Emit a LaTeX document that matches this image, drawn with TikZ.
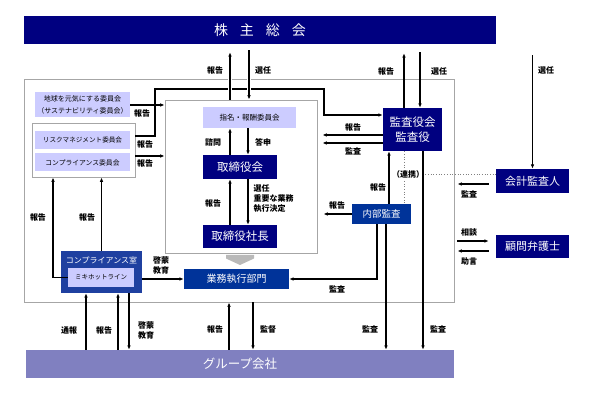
\documentclass[tikz,border=0pt]{standalone}
\usepackage{fontspec}
\setmainfont{Noto Sans CJK JP}
\usetikzlibrary{arrows.meta}

\definecolor{navy}{HTML}{000080}
\definecolor{midblue}{HTML}{003399}
\definecolor{roomblue}{HTML}{1F40A0}
\definecolor{lav}{HTML}{CCCCFF}
\definecolor{grpviolet}{HTML}{8080C0}
\definecolor{framegray}{HTML}{A6A6A6}

\begin{document}
\begin{tikzpicture}[x=1pt, y=-1pt,
    box/.style={rectangle, inner sep=0pt, text=white, align=center,
                font=\fontsize{11.5}{15}\selectfont},
    navybox/.style={box, fill=navy},
    bluebox/.style={box, fill=midblue, font=\fontsize{10}{12}\selectfont},
    lavbox/.style={rectangle, inner sep=0pt, fill=lav, align=center,
                   font=\fontsize{7}{12}\selectfont},
    grayframe/.style={rectangle, draw=framegray, line width=0.8pt, inner sep=0pt},
    lbl/.style={font=\bfseries\fontsize{8}{10}\selectfont, inner sep=0.5pt, align=left},
    arr/.style={-{Latex[length=4.5pt,width=3.6pt]}, line width=1.2pt},
    gap/.style={preaction={draw=white, line width=4pt, -}},
    link/.style={dotted, gray, line width=0.7pt},
]
\useasboundingbox (0,0) rectangle (600,395);

% frames
\node[grayframe, minimum width=430, minimum height=223] (outer) at (239,190.5) {};
\node[grayframe, minimum width=152, minimum height=153] (bframe) at (241,176.5) {};
\node[grayframe, fill=white, minimum width=103, minimum height=54] (cgroup) at (83.5,150) {};

% boxes
\node[navybox, minimum width=472, minimum height=28, font=\fontsize{14}{16}\selectfont] (meeting) at (260,30)
    {株\hspace{12pt}主\hspace{12pt}総\hspace{12pt}会};
\node[lavbox, minimum width=95, minimum height=25] (earth) at (82.5,105)
    {地球を元気にする委員会\\（サステナビリティ委員会）};
\node[lavbox, minimum width=95, minimum height=18, font=\fontsize{6.6}{8}\selectfont] (risk) at (82.5,140.5) {リスクマネジメント委員会};
\node[lavbox, minimum width=95, minimum height=18, font=\fontsize{6.8}{8}\selectfont] (compc) at (82.5,162.5) {コンプライアンス委員会};
\node[lavbox, minimum width=93, minimum height=21, font=\fontsize{7.5}{9}\selectfont] (nominate) at (249.5,117.5) {指名・報酬委員会};
\node[navybox, minimum width=74, minimum height=24] (board) at (240,167) {取締役会};
\node[navybox, minimum width=74, minimum height=23] (president) at (240,236.5) {取締役社長};
\node[bluebox, minimum width=105, minimum height=20] (exec) at (236.5,279) {業務執行部門};
\node[navybox, minimum width=59, minimum height=43] (auditors) at (412.5,129.5) {監査役会\\監査役};
\node[bluebox, minimum width=59, minimum height=20, font=\fontsize{9.5}{11}\selectfont] (internal) at (381.5,214) {内部監査};
\node[navybox, minimum width=73, minimum height=24, font=\fontsize{11}{13}\selectfont] (accountant) at (532.5,181) {会計監査人};
\node[navybox, minimum width=73, minimum height=23, font=\fontsize{11}{13}\selectfont] (lawyer) at (532.5,246.5) {顧問弁護士};
\node[box, fill=roomblue, minimum width=81, minimum height=42] (office) at (101.5,272) {};
\node[box, font=\fontsize{8}{9}\selectfont] (officet) at (101.5,260.5) {コンプライアンス室};
\node[lavbox, minimum width=66, minimum height=19, font=\fontsize{6.5}{8}\selectfont] (hotline) at (101,277.5) {ミキホットライン};
\node[box, fill=grpviolet, minimum width=428, minimum height=28, font=\fontsize{12.5}{14}\selectfont] (group) at (240,364) {グループ会社};

% broad arrow president -> exec
\coordinate (flow) at (240,255);
\fill[gray!55] (flow) ++(-14,0) -- ++(28,0) -- ++(0,3.5) -- ++(-14,6.5) -- ++(-14,-6.5) -- cycle;

% connectors
\draw[arr] (cgroup.east |- 0,136) -| (155,89) -| (324,115) -- (auditors.west |- 0,115);
\draw[arr, gap, shorten >=8pt] (bframe.north -| 230,0) -- (meeting.south -| 230,0);
\draw[arr, gap, shorten <=6pt] (meeting.south -| 249,0) -- (bframe.north -| 249,0);
\draw[arr, shorten >=9pt] (auditors.north -| 404,0) -- (meeting.south -| 404,0);
\draw[arr, shorten <=8pt] (meeting.south -| 420,0) -- (auditors.north -| 420,0);
\draw[arr, shorten <=11pt] (meeting.south -| accountant.north) -- (accountant.north);

\draw[arr] (earth.east) -- (bframe.west |- earth.east);
\draw[arr] (cgroup.east |- 0,156) -- (bframe.west |- 0,156);
\draw[arr] (board.north -| 230,0) -- (nominate.south -| 230,0);
\draw[arr] (nominate.south -| 248,0) -- (board.north -| 248,0);
\draw[arr] (president.north -| 230,0) -- (board.south -| 230,0);
\draw[arr] (board.south -| 248,0) -- (president.north -| 248,0);

\draw[arr, shorten >=5pt] (auditors.west |- 0,135) -- (bframe.east |- 0,135);
\draw[arr, shorten >=5pt] (auditors.west |- 0,143) -- (bframe.east |- 0,143);
\draw[arr] (internal.north -| 389,0) -- (auditors.south -| 389,0);
\draw[link] (auditors.south -| 404,0) -- (internal.north -| 404,0);
\node[lbl, fill=white, inner sep=1pt] (renkei) at (408,174) {（連携）};
\draw[link] (renkei.east) -- (accountant.west |- renkei.east);
\draw[arr] (auditors.south -| 423,0) -- (group.north -| 423,0);
\draw[arr] (internal.south -| 386,0) -- (group.north -| 386,0);
\draw[arr] (internal.south -| 377,0) |- (exec.east);
\draw[arr, shorten >=6pt] (internal.west) -- (bframe.east |- internal.west);

\draw[arr, shorten <=7pt, shorten >=3pt] (accountant.west |- 0,184) -- (outer.east |- 0,184);
\draw[arr, shorten <=3pt, shorten >=7pt] (outer.east |- 0,241) -- (lawyer.west |- 0,241);
\draw[arr, shorten <=7pt, shorten >=3pt] (lawyer.west |- 0,251) -- (outer.east |- 0,251);

\draw[arr] (office.north) -- (cgroup.south -| office.north);
\draw[arr] (hotline.west) -| (cgroup.south -| 53,0);
\draw[arr] (office.east |- exec.west) -- (exec.west);
\draw[arr] (group.north -| 86,0) -- (office.south -| 86,0);
\draw[arr] (group.north -| 118,0) -- (office.south -| 118,0);
\draw[arr] (office.south -| 129,0) -- (group.north -| 129,0);
\draw[arr] (group.north -| 229,0) -- (outer.south -| 229,0);
\draw[arr] (outer.south -| 253,0) -- (group.north -| 253,0);

% labels
\node[lbl] (l1) at (215,70) {報告};
\node[lbl] (l2) at (263,70) {選任};
\node[lbl] (l3) at (386,71) {報告};
\node[lbl] (l4) at (439,71) {選任};
\node[lbl] (l5) at (546,70) {選任};
\node[lbl] (l6) at (142,113) {報告};
\node[lbl] (l7) at (145,144) {報告};
\node[lbl] (l8) at (145,163) {報告};
\node[lbl] (l9) at (213,142) {諮問};
\node[lbl] (l10) at (263,142) {答申};
\node[lbl] (l11) at (213,203) {報告};
\node[lbl, anchor=west] (l12) at (253,199) {選任\\重要な業務\\執行決定};
\node[lbl] (l13) at (353,127) {報告};
\node[lbl] (l14) at (353,151) {監査};
\node[lbl] (l15) at (378,187) {報告};
\node[lbl] (l16) at (337,205) {報告};
\node[lbl] (l17) at (469,194) {監査};
\node[lbl] (l18) at (469,232) {相談};
\node[lbl] (l19) at (469,261) {助言};
\node[lbl] (l20) at (337,289) {監査};
\node[lbl] (l21) at (38,217) {報告};
\node[lbl] (l22) at (87,217) {報告};
\node[lbl] (l23) at (161,265.5) {啓蒙\\教育};
\node[lbl] (l24) at (69,330) {通報};
\node[lbl] (l25) at (104,330) {報告};
\node[lbl] (l26) at (146,330) {啓蒙\\教育};
\node[lbl] (l27) at (215,329) {報告};
\node[lbl] (l28) at (268,329) {監督};
\node[lbl] (l29) at (370,329) {監査};
\node[lbl] (l30) at (438,329) {監査};
\end{tikzpicture}
\end{document}
